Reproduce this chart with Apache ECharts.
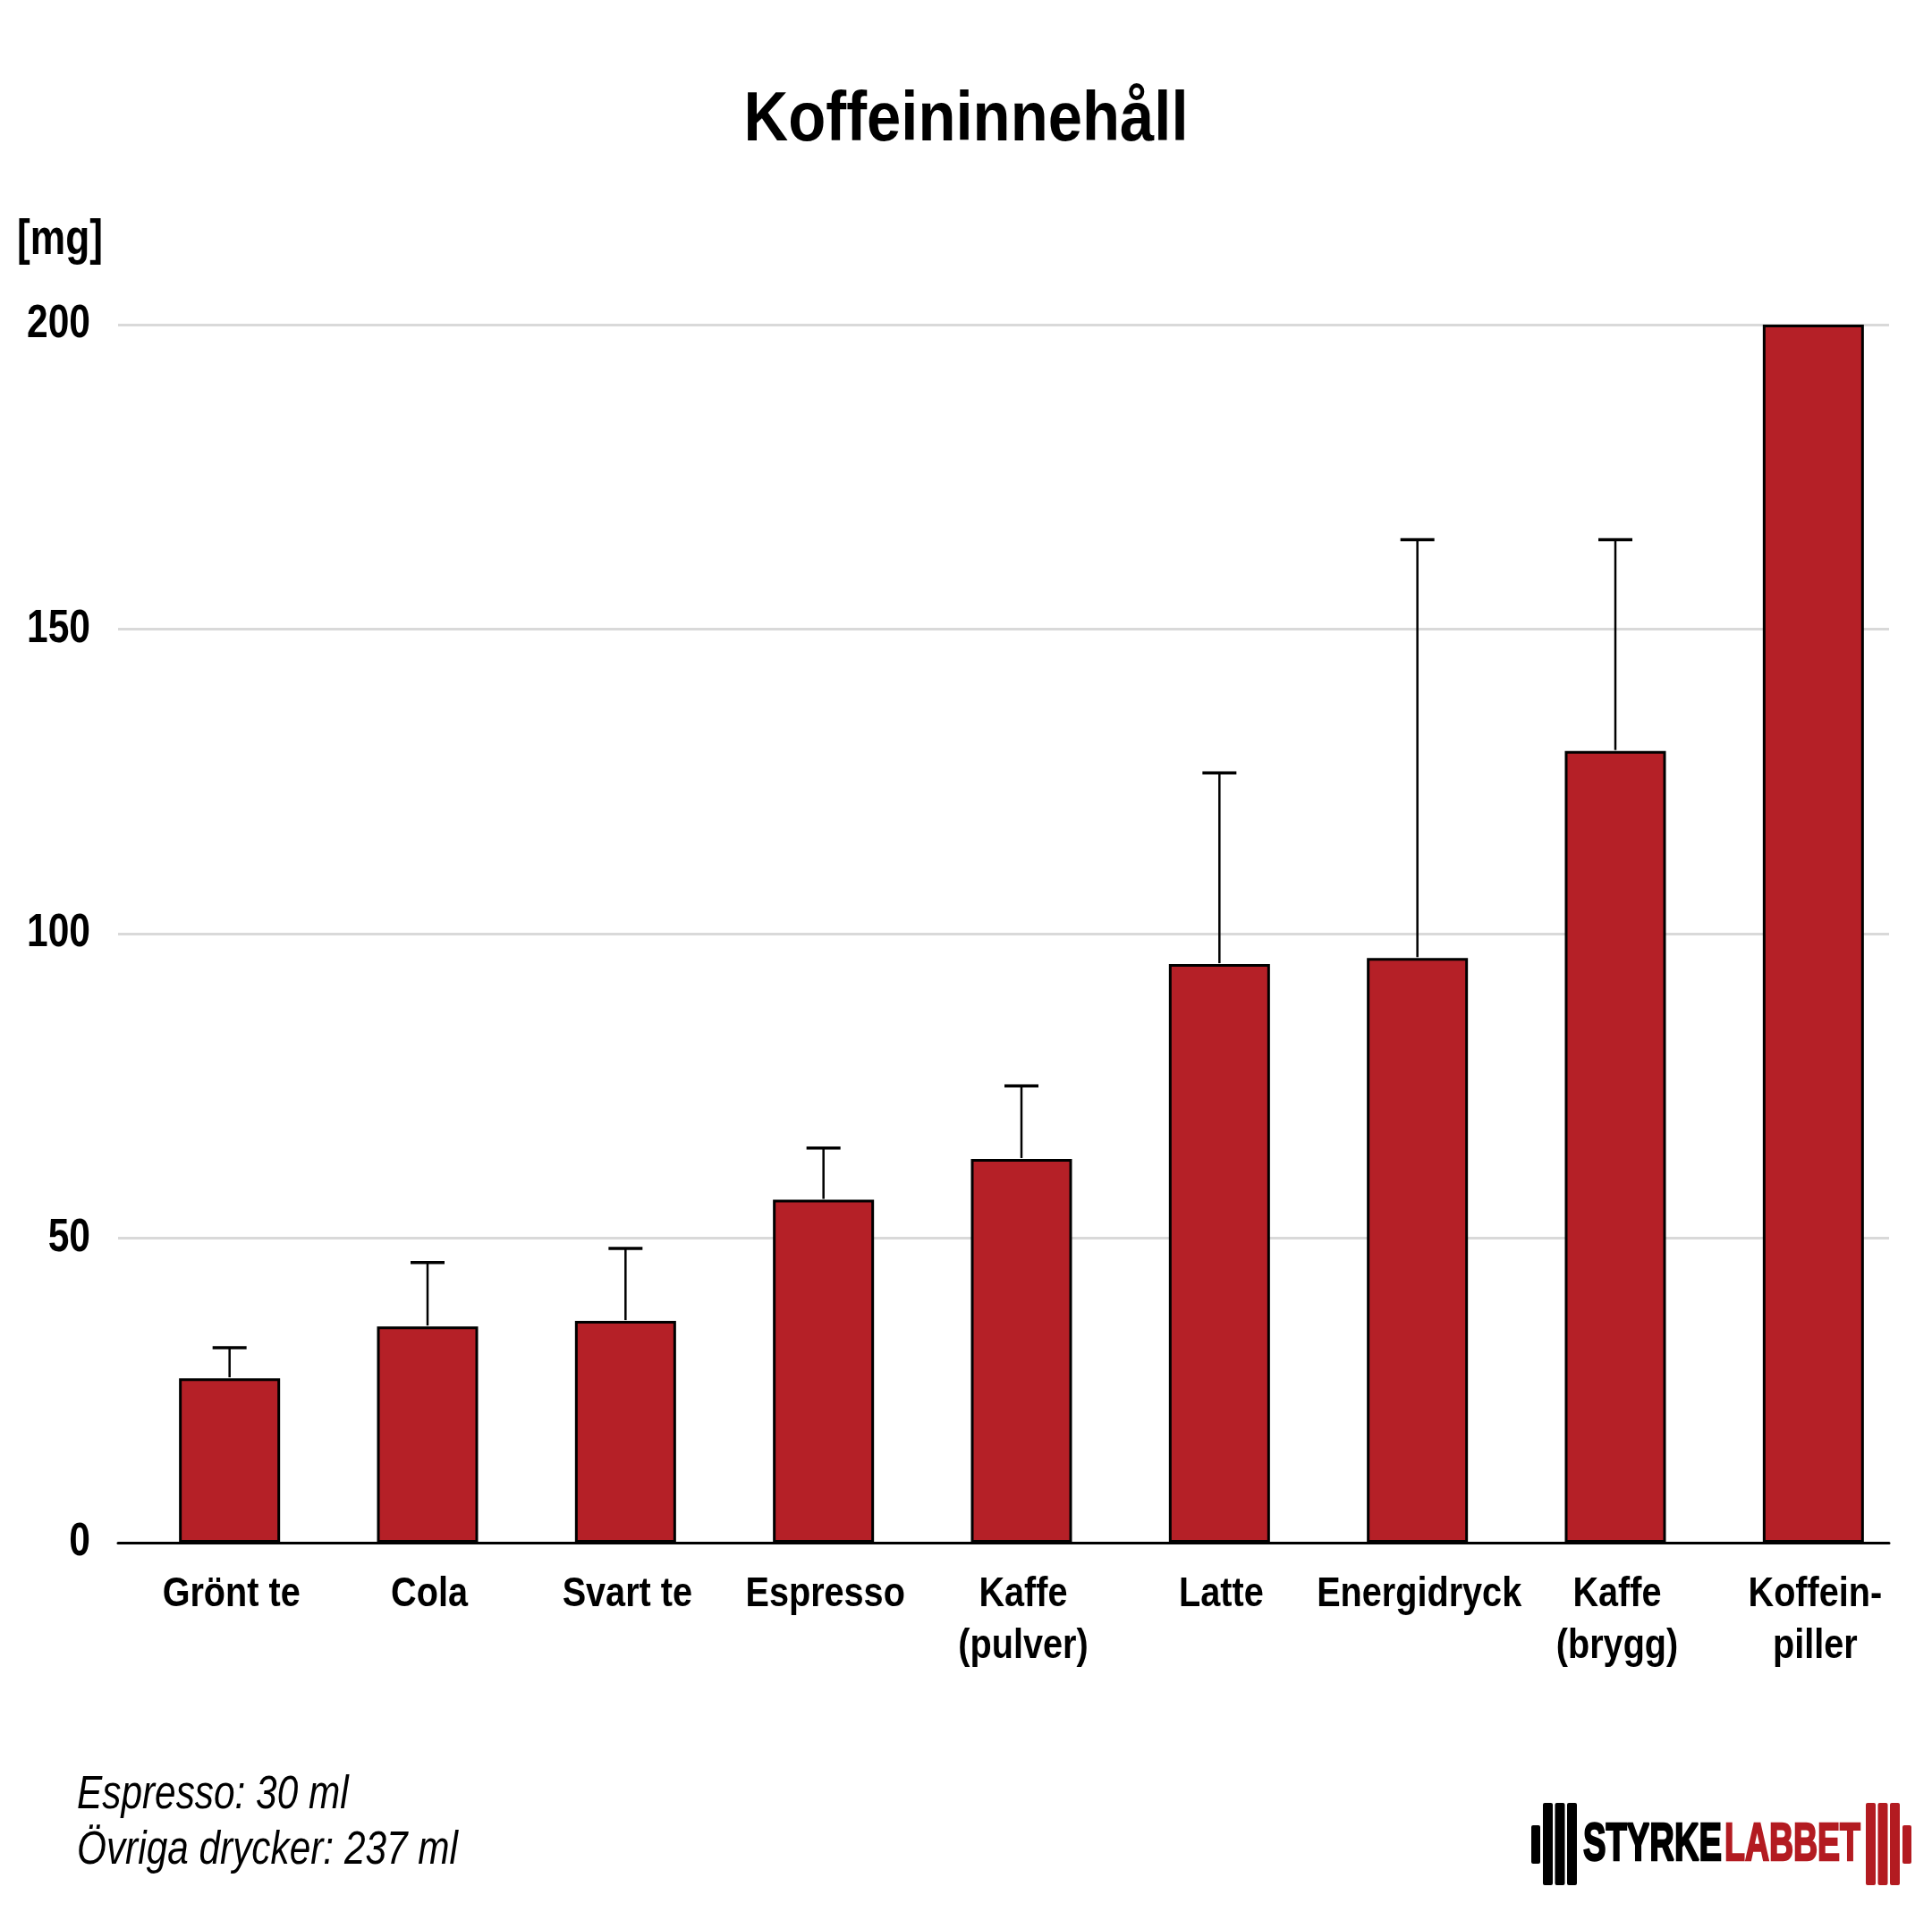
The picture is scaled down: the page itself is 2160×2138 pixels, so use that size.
<!DOCTYPE html>
<html>
<head>
<meta charset="utf-8">
<script src="https://cdn.jsdelivr.net/npm/echarts@6/dist/echarts.min.js"></script>
<style>
html,body{margin:0;padding:0;background:#fff;}
#chart{width:2160px;height:2138px;}
</style>
</head>
<body>
<div id="chart"></div>
<script>
// ---- data ----
const categories = ['Grönt te', 'Cola', 'Svart te', 'Espresso', 'Kaffe\n(pulver)', 'Latte', 'Energidryck', 'Kaffe\n(brygg)', 'Koffein-\npiller'];
const caffeine = [27, 35.5, 36.4, 56.3, 63, 95, 96, 130, 200];
const caffeineMax = [32, 46, 48.3, 64.8, 75, 126.4, 164.7, 164.7, null];
const yTicks = [0, 50, 100, 150, 200];
const titleText = 'Koffeininnehåll';
const unitText = '[mg]';
const notes = ['Espresso: 30 ml', 'Övriga drycker: 237 ml'];
const logoParts = ['STYRKE', 'LABBET'];

const SANS = "'Liberation Sans', Arial, sans-serif";
const RED = '#b52027';
const LOGO_RED = '#b31b21';

function measure(text, font) {
  const c = document.createElement('canvas').getContext('2d');
  c.font = font;
  return c.measureText(text).width;
}
// canvas 'middle' baseline offset for Liberation Sans (ascent .905, descent .212)
const MID = 0.3465;

const chart = echarts.init(document.getElementById('chart'), null, {renderer: 'canvas'});

const errData = categories.map((c, i) => [i, caffeine[i], caffeineMax[i]]).filter(d => d[2] != null);

const option = {
  backgroundColor: '#fff',
  animation: false,
  grid: [
    {left: 132, right: 48, top: 363, bottom: 413},
    {left: 146, right: 22, top: 363, bottom: 413}
  ],
  xAxis: [
    {gridIndex: 0, type: 'value', min: 0, max: 1, axisLine: {show: true, onZero: false, lineStyle: {color: '#000', width: 3}},
     axisTick: {show: false}, axisLabel: {show: false}, splitLine: {show: false}},
    {gridIndex: 1, type: 'category', data: categories, axisLine: {show: false}, axisTick: {show: false},
     axisLabel: {show: false}}
  ],
  yAxis: [
    {gridIndex: 0, type: 'value', min: yTicks[0], max: yTicks[yTicks.length - 1], interval: yTicks[1] - yTicks[0],
     axisLine: {show: false}, axisTick: {show: false}, axisLabel: {show: false},
     splitLine: {show: true, lineStyle: {color: '#d9d9d9', width: 3}}},
    {gridIndex: 1, type: 'value', min: yTicks[0], max: yTicks[yTicks.length - 1], show: false, splitLine: {show: false}}
  ],
  series: [
    {
      type: 'bar', xAxisIndex: 1, yAxisIndex: 1, data: caffeine, barWidth: 113,
      itemStyle: {color: RED, borderColor: '#000', borderWidth: 3},
      z: 2
    },
    {
      type: 'custom', xAxisIndex: 1, yAxisIndex: 1, data: errData, z: 3,
      encode: {x: 0, y: [1, 2]},
      renderItem: function (params, api) {
        const i = api.value(0);
        const base = api.coord([i, api.value(1)]);
        const top = api.coord([i, api.value(2)]);
        const half = 19;
        return {
          type: 'group',
          children: [
            {type: 'line', shape: {x1: top[0], y1: top[1], x2: base[0], y2: base[1] - 1}, style: {stroke: '#000', lineWidth: 2.5}},
            {type: 'line', shape: {x1: top[0] - half, y1: top[1], x2: top[0] + half, y2: top[1]}, style: {stroke: '#000', lineWidth: 3.5}}
          ]
        };
      }
    }
  ]
};
chart.setOption(option);

// ---- condensed texts (narrow bold look emulated with scaleX) ----
const graphics = [];
function narrowText(text, font, size, x, baseline, targetW, align, fill, extra) {
  const w = measure(text, font);
  graphics.push({
    type: 'text', x: x, y: baseline - MID * size, scaleX: targetW / w, silent: true,
    style: Object.assign({text: text, font: font, fill: fill || '#000', align: align || 'left', verticalAlign: 'middle'}, extra || {})
  });
}

// title
narrowText(titleText, 'bold 78px ' + SANS, 78, 1080, 163, 497, 'center');
// unit
narrowText(unitText, 'bold 56px ' + SANS, 56, 19, 288, 96, 'left');

// y tick labels placed from the axis scale
const tickFont = 'bold 52px ' + SANS;
const tickScale = 71 / measure('200', tickFont);
yTicks.forEach(v => {
  const py = chart.convertToPixel({yAxisIndex: 0}, v);
  graphics.push({
    type: 'text', x: 101, y: py, scaleX: tickScale, silent: true,
    style: {text: String(v), font: tickFont, fill: '#000', align: 'right', verticalAlign: 'middle'}
  });
});

// category labels placed from the category axis
const catFont = 'bold 46px ' + SANS;
const catScale = 229 / measure('Energidryck', catFont);
categories.forEach((c, i) => {
  const px = chart.convertToPixel({xAxisIndex: 1}, i);
  c.split('\n').forEach((line, k) => {
    graphics.push({
      type: 'text', x: px + 2, y: 1799 + k * 58 - MID * 46, scaleX: catScale, silent: true,
      style: {text: line, font: catFont, fill: '#000', align: 'center', verticalAlign: 'middle'}
    });
  });
});

// footnotes
const noteFont = 'italic 51px ' + SANS;
const noteScale = 426 / measure(notes[1], noteFont);
[[notes[0], 2025], [notes[1], 2087]].forEach(([t, b]) => {
  graphics.push({
    type: 'text', x: 86, y: b - MID * 51, scaleX: noteScale, silent: true,
    style: {text: t, font: noteFont, fill: '#000', align: 'left', verticalAlign: 'middle'}
  });
});

// logo
const bar = (x, y, w, h, color) => ({type: 'rect', shape: {x: x, y: y, width: w, height: h, r: 2}, style: {fill: color}, silent: true});
graphics.push(
  bar(1712, 2041, 10, 43, '#000'),
  bar(1725, 2016, 11, 92, '#000'),
  bar(1738.5, 2016, 11, 92, '#000'),
  bar(1752, 2016, 11, 92, '#000'),
  bar(2086, 2016, 11, 92, LOGO_RED),
  bar(2099.5, 2016, 11, 92, LOGO_RED),
  bar(2113, 2016, 11, 92, LOGO_RED),
  bar(2127, 2041, 10, 43, LOGO_RED)
);
const logoFont = 'bold 60px ' + SANS;
narrowText(logoParts[0], logoFont, 60, 1770, 2084, 155, 'left', '#000', {stroke: '#000', lineWidth: 2.5});
narrowText(logoParts[1], logoFont, 60, 1928, 2084, 152, 'left', LOGO_RED, {stroke: LOGO_RED, lineWidth: 2.5});

chart.setOption({graphic: graphics});
</script>
</body>
</html>
